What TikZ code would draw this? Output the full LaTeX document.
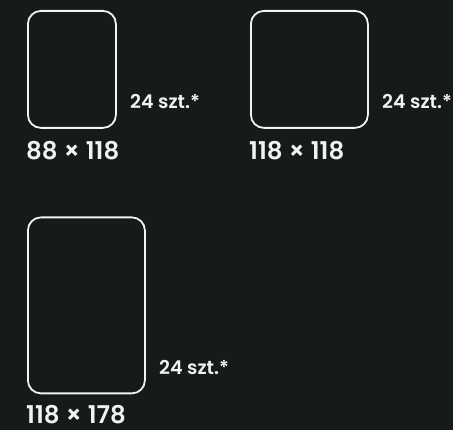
\documentclass[tikz,border=0pt]{standalone}
\usepackage{fontspec}
\setmainfont{Poppins}
\newfontfamily\popmed{Poppins SemiBold}
\definecolor{bg}{HTML}{151A1A}
\definecolor{fg}{HTML}{F2F2F2}
\begin{document}
\begin{tikzpicture}[x=1pt,y=-1pt,
  card/.style={draw=fg,line width=1.8pt,rounded corners=13pt,inner sep=0pt,anchor=north west},
  count/.style={text=fg,font=\popmed\fontsize{19}{19}\selectfont,inner sep=0pt,anchor=west},
  size/.style={text=fg,font=\popmed\fontsize{24.5}{24.5}\selectfont,inner sep=0pt,anchor=west}]
\fill[bg] (0,0) rectangle (453,430);
\useasboundingbox (0,0) rectangle (453,430);
\node[card,minimum width=88pt,minimum height=117pt] (c1) at (27,10) {};
\node[count] (n1) at (130,102) {24 szt.*};
\node[size] (s1) at (26,151) {88 × 118};
\node[card,minimum width=117pt,minimum height=117pt] (c2) at (250,10) {};
\node[count] (n2) at (382,102) {24 szt.*};
\node[size] (s2) at (249,151) {118 × 118};
\node[card,minimum width=117pt,minimum height=176pt] (c3) at (27,216.5) {};
\node[count] (n3) at (159,368) {24 szt.*};
\node[size] (s3) at (26,415) {118 × 178};
\end{tikzpicture}
\end{document}
